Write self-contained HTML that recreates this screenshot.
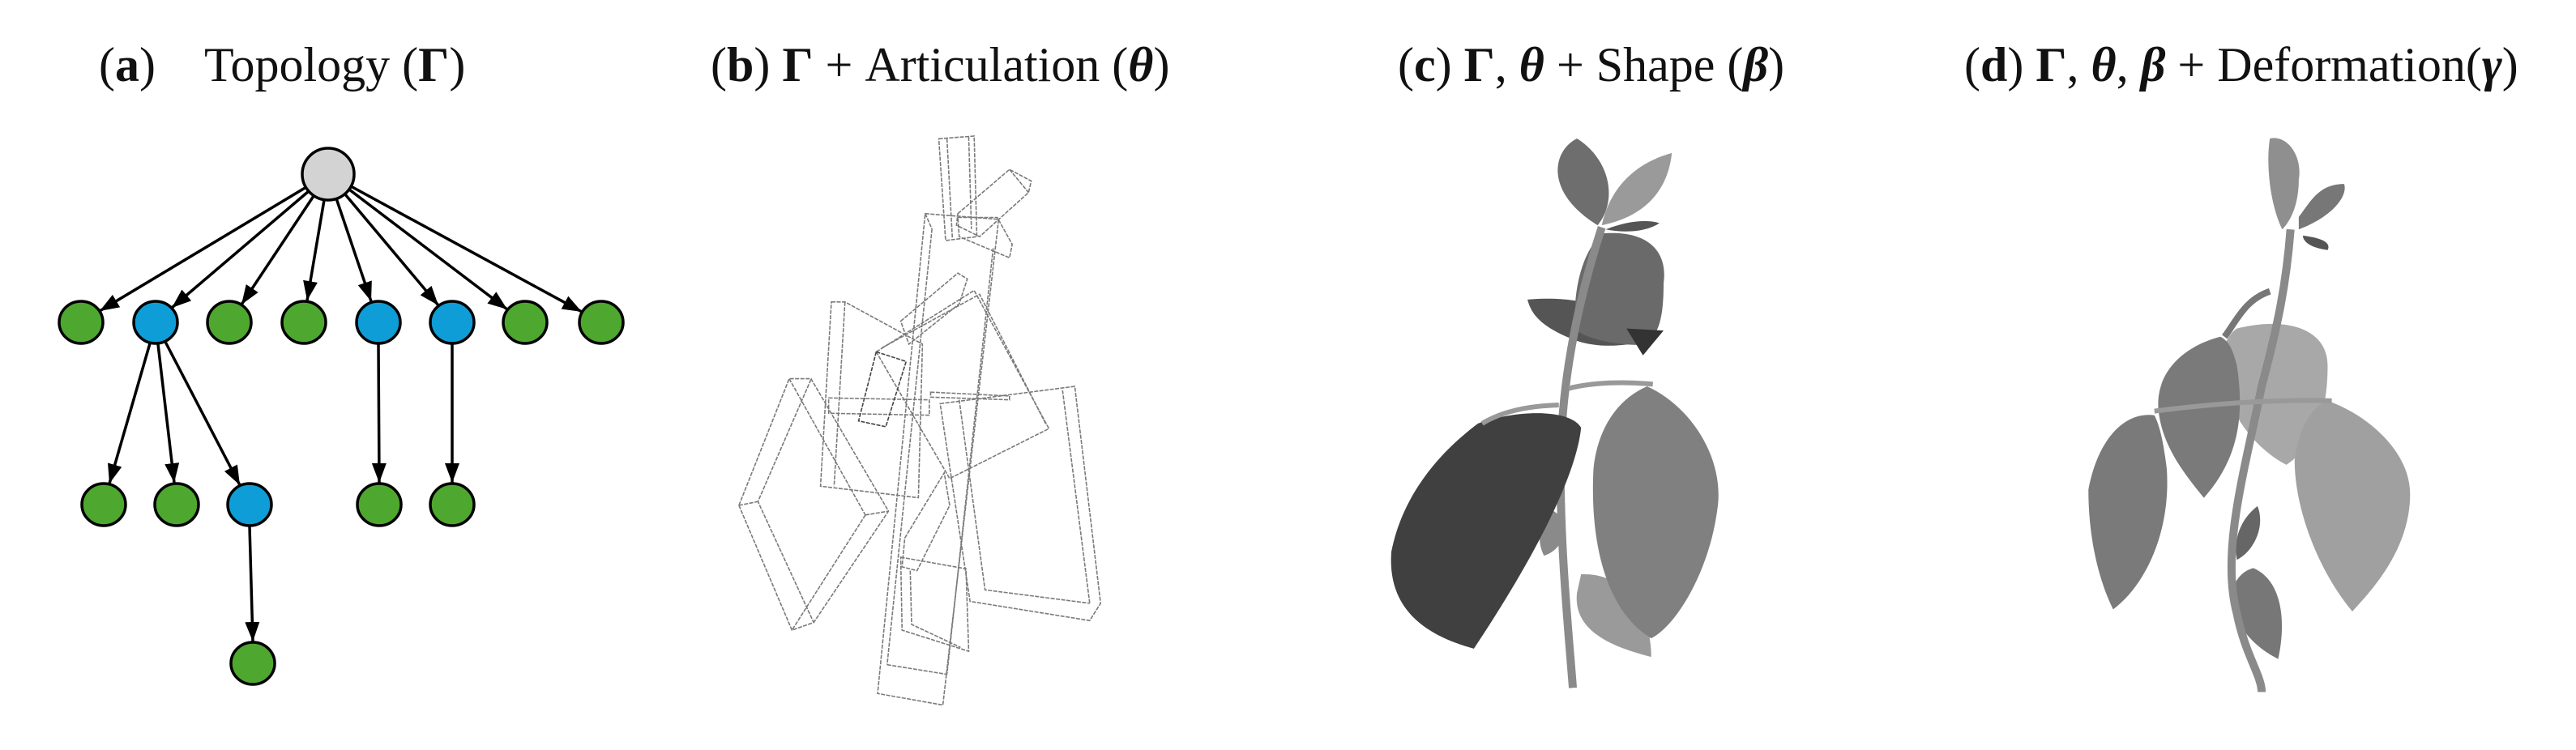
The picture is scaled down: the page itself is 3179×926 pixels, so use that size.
<!DOCTYPE html>
<html><head><meta charset="utf-8"><style>
html,body{margin:0;padding:0;background:#fff;}
body{width:3179px;height:926px;position:relative;overflow:hidden;font-family:"Liberation Serif",serif;}
.t{position:absolute;top:50px;font-size:60px;white-space:nowrap;color:#111;line-height:1;}
svg{position:absolute;left:0;top:0;}
</style></head><body>
<div class="t" style="left:122px">(<b>a</b>)</div>
<div class="t" style="left:252px">Topology (<b>Γ</b>)</div>
<div class="t" style="left:877px">(<b>b</b>) <b>Γ</b> + Articulation (<b><i>θ</i></b>)</div>
<div class="t" style="left:1725px">(<b>c</b>) <b>Γ</b>, <b><i>θ</i></b> + Shape (<b><i>β</i></b>)</div>
<div class="t" style="left:2424px">(<b>d</b>) <b>Γ</b>, <b><i>θ</i></b>, <b><i>β</i></b> + Deformation(<b><i>γ</i></b>)</div>
<svg width="3179" height="926" viewBox="0 0 3179 926">
<defs><marker id="ah" markerUnits="userSpaceOnUse" markerWidth="26" markerHeight="20" refX="24" refY="9" orient="auto"><path d="M0,0 L24,9 L0,18 Z" fill="#000"/></marker></defs>
<g stroke="#000" stroke-width="3.5" marker-end="url(#ah)">
<line x1="378" y1="231" x2="123" y2="384"/>
<line x1="381" y1="236" x2="212" y2="380"/>
<line x1="387" y1="242" x2="298" y2="376"/>
<line x1="400" y1="247" x2="379" y2="371"/>
<line x1="415" y1="245" x2="458" y2="372"/>
<line x1="426" y1="240" x2="541" y2="377"/>
<line x1="431" y1="234" x2="626" y2="382"/>
<line x1="433" y1="230" x2="718" y2="385"/>
<line x1="185" y1="424" x2="135" y2="597"/>
<line x1="195" y1="425" x2="215" y2="596"/>
<line x1="204" y1="422" x2="296" y2="599"/>
<line x1="467" y1="425" x2="468" y2="596"/>
<line x1="558" y1="425" x2="558" y2="596"/>
<line x1="308" y1="650" x2="312" y2="792"/>
</g>
<g stroke="#000" stroke-width="3.5">
<ellipse cx="405" cy="215" rx="32" ry="32" fill="#d3d3d3"/>
<g fill="#4ea72e">
<ellipse cx="100" cy="398" rx="27" ry="26"/><ellipse cx="283" cy="398" rx="27" ry="26"/><ellipse cx="375" cy="398" rx="27" ry="26"/><ellipse cx="648" cy="398" rx="27" ry="26"/><ellipse cx="742" cy="398" rx="27" ry="26"/>
<ellipse cx="128" cy="623" rx="27" ry="26"/><ellipse cx="218" cy="623" rx="27" ry="26"/><ellipse cx="468" cy="623" rx="27" ry="26"/><ellipse cx="558" cy="623" rx="27" ry="26"/><ellipse cx="312" cy="819" rx="27" ry="26"/>
</g>
<g fill="#0e9dd6">
<ellipse cx="192" cy="398" rx="27" ry="26"/><ellipse cx="467" cy="398" rx="27" ry="26"/><ellipse cx="558" cy="398" rx="27" ry="26"/><ellipse cx="308" cy="623" rx="27" ry="26"/>
</g></g>
<!-- wireframe -->
<g transform="translate(880,150) scale(0.3356,0.474)" fill="none" stroke="#7a7a7a" stroke-width="1.6" stroke-dasharray="5 1.5">
<polygon vector-effect="non-scaling-stroke" points="830,45 960,38 970,300 855,310"/>
<line vector-effect="non-scaling-stroke" x1="860" y1="45" x2="880" y2="305"/><line vector-effect="non-scaling-stroke" x1="940" y1="40" x2="950" y2="280"/>
<polygon vector-effect="non-scaling-stroke" points="900,240 1090,125 1170,155 1160,185 980,300 895,270"/>
<line vector-effect="non-scaling-stroke" x1="1090" y1="125" x2="1160" y2="185"/>
<polygon vector-effect="non-scaling-stroke" points="900,250 1045,250 1100,320 1090,355 905,300"/>
<polygon vector-effect="non-scaling-stroke" points="780,240 1050,255 845,1520 605,1490"/>
<line vector-effect="non-scaling-stroke" x1="805" y1="280" x2="640" y2="1415"/><line vector-effect="non-scaling-stroke" x1="1030" y1="330" x2="860" y2="1440"/><line vector-effect="non-scaling-stroke" x1="640" y1="1415" x2="860" y2="1440"/><line vector-effect="non-scaling-stroke" x1="780" y1="240" x2="805" y2="280"/>
<polygon vector-effect="non-scaling-stroke" points="95,1000 280,670 360,670 645,1015 370,1305 290,1325"/>
<polyline vector-effect="non-scaling-stroke" points="360,672 165,990 370,1305"/><line vector-effect="non-scaling-stroke" x1="95" y1="1000" x2="165" y2="990"/><line vector-effect="non-scaling-stroke" x1="280" y1="670" x2="560" y2="1025"/><line vector-effect="non-scaling-stroke" x1="560" y1="1025" x2="645" y2="1015"/><line vector-effect="non-scaling-stroke" x1="560" y1="1025" x2="290" y2="1325"/>
<polygon vector-effect="non-scaling-stroke" points="435,470 485,470 770,580 755,980 395,950"/>
<line vector-effect="non-scaling-stroke" x1="485" y1="470" x2="445" y2="950"/>
<polygon vector-effect="non-scaling-stroke" points="835,735 1330,690 1425,1255 1385,1300 945,1250"/>
<polyline vector-effect="non-scaling-stroke" points="905,725 1000,1220 1385,1255"/><line vector-effect="non-scaling-stroke" x1="1285" y1="700" x2="1385" y2="1255"/>
<polygon vector-effect="non-scaling-stroke" points="600,600 960,440 1235,800 870,930"/>
<polyline vector-effect="non-scaling-stroke" points="620,590 980,450 1225,790"/>
<polygon vector-effect="non-scaling-stroke" points="690,1135 930,1165 940,1380 695,1325"/>
<polyline vector-effect="non-scaling-stroke" points="725,1170 730,1310 910,1370"/>
<polygon vector-effect="non-scaling-stroke" points="705,1085 850,915 870,1000 750,1170 695,1160"/>
<polygon vector-effect="non-scaling-stroke" points="425,720 795,725 795,765 425,760"/>
<polygon vector-effect="non-scaling-stroke" points="800,705 1090,715 1090,725 800,718"/>
<polygon vector-effect="non-scaling-stroke" points="690,520 900,395 935,410 905,475 720,580"/>
<polygon vector-effect="non-scaling-stroke" stroke="#444" points="600,600 710,625 635,795 535,780"/>
</g>
<!-- plants -->
<g transform="translate(1600,120) scale(1.018,0.51)">
<path d="M345,1155 C400,1150 430,1250 430,1355 C380,1330 335,1290 340,1200Z" fill="#9a9a9a"/>
<path d="M310,1000 C330,1020 330,1090 300,1110 C290,1070 295,1030 310,1000Z" fill="#8a8a8a"/>
<path d="M280,490 C330,480 400,500 430,590 C400,600 370,610 340,590 C300,560 285,530 280,490Z" fill="#555"/>
<path d="M370,330 C430,320 450,380 445,450 C445,530 440,580 420,600 C380,600 345,580 338,560 C335,470 345,380 370,330Z" fill="#6a6a6a"/>
<path d="M400,560 L445,565 L420,625 Z" fill="#333"/>
<path d="M365,310 C300,230 310,130 340,100 C380,150 390,250 365,310Z" fill="#6e6e6e"/>
<path d="M370,310 C380,220 410,160 455,135 C450,230 420,290 370,310Z" fill="#9a9a9a"/>
<path d="M375,320 C400,300 425,295 440,305 C425,325 400,330 375,320Z" fill="#555"/>
<path d="M425,700 C480,750 520,880 510,1000 C500,1150 460,1280 430,1310 C380,1250 355,1100 360,900 C365,800 390,730 425,700Z" fill="#808080"/>
<path d="M370,315 C340,500 320,700 320,900 C320,1100 330,1300 335,1430" fill="none" stroke="#8a8a8a" stroke-width="10" vector-effect="non-scaling-stroke"/>
<path d="M220,790 C260,760 330,750 345,800 C340,900 300,1080 215,1335 C150,1300 110,1230 115,1100 C130,950 180,850 220,790Z" fill="#404040"/>
<path d="M330,705 C360,690 400,688 432,695" fill="none" stroke="#999" stroke-width="6" vector-effect="non-scaling-stroke"/>
<path d="M225,790 C250,760 280,748 318,745" fill="none" stroke="#999" stroke-width="6" vector-effect="non-scaling-stroke"/>
<path d="M1180,470 C1150,490 1140,540 1125,580" fill="none" stroke="#777" stroke-width="8" vector-effect="non-scaling-stroke"/>
<path d="M1140,560 C1200,530 1250,560 1250,650 C1250,780 1230,850 1200,890 C1170,860 1130,780 1125,680 C1120,620 1125,580 1140,560Z" fill="#a8a8a8"/>
<path d="M1120,580 C1080,600 1040,660 1045,760 C1050,850 1080,920 1100,970 C1140,880 1150,780 1140,650 C1135,610 1130,590 1120,580Z" fill="#7a7a7a"/>
<path d="M1040,770 C1000,760 970,840 960,950 C960,1080 975,1180 990,1240 C1030,1180 1060,1050 1055,900 C1050,820 1045,790 1040,770Z" fill="#7a7a7a"/>
<path d="M1250,735 C1300,770 1350,860 1350,960 C1350,1100 1300,1200 1280,1245 C1240,1150 1210,1000 1210,880 C1215,800 1230,750 1250,735Z" fill="#a0a0a0"/>
<path d="M1165,990 C1175,1040 1160,1100 1140,1120 C1135,1070 1145,1020 1165,990Z" fill="#666"/>
<path d="M1160,1140 C1195,1170 1200,1270 1190,1360 C1150,1320 1130,1250 1135,1190 C1140,1160 1150,1145 1160,1140Z" fill="#777"/>
<path d="M1180,100 C1200,90 1220,140 1215,200 C1215,260 1205,300 1195,320 C1180,260 1175,160 1180,100Z" fill="#8f8f8f"/>
<path d="M1215,290 C1230,250 1240,210 1270,210 C1275,240 1255,290 1215,320Z" fill="#777"/>
<path d="M1220,335 C1240,340 1255,350 1250,370 C1230,365 1220,350 1220,335Z" fill="#555"/>
<path d="M1205,320 C1200,450 1190,550 1170,700 C1150,900 1120,1100 1140,1250 C1150,1350 1170,1400 1170,1440" fill="none" stroke="#8a8a8a" stroke-width="10" vector-effect="non-scaling-stroke"/>
<path d="M1040,760 C1100,745 1180,730 1255,735" fill="none" stroke="#999" stroke-width="6" vector-effect="non-scaling-stroke"/>
</g>
</svg>
</body></html>
